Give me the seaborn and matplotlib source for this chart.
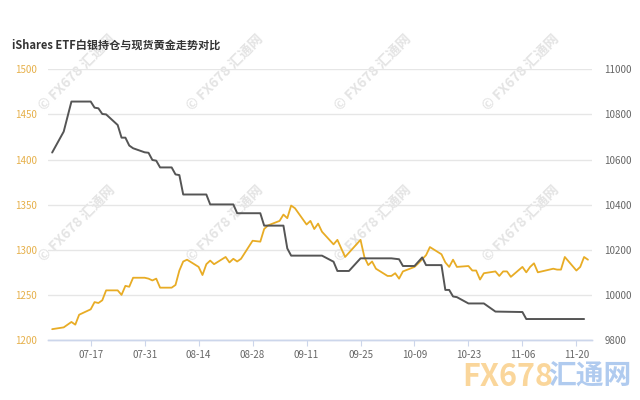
import pandas as pd
import matplotlib
matplotlib.use("Agg")
import matplotlib.pyplot as plt
import matplotlib.dates as mdates
import seaborn as sns

# Spot gold (left axis)
gold_dates = ["2017-07-07", "2017-07-10", "2017-07-12", "2017-07-13", "2017-07-14",
              "2017-07-17", "2017-07-18", "2017-07-19", "2017-07-20", "2017-07-21",
              "2017-07-24", "2017-07-25", "2017-07-26", "2017-07-27", "2017-07-28",
              "2017-07-31", "2017-08-01", "2017-08-02", "2017-08-03", "2017-08-04",
              "2017-08-07", "2017-08-08", "2017-08-09", "2017-08-10", "2017-08-11",
              "2017-08-14", "2017-08-15", "2017-08-16", "2017-08-17", "2017-08-18",
              "2017-08-21", "2017-08-22", "2017-08-23", "2017-08-24", "2017-08-25",
              "2017-08-28", "2017-08-30", "2017-08-31", "2017-09-01", "2017-09-04",
              "2017-09-05", "2017-09-06", "2017-09-07", "2017-09-08", "2017-09-11",
              "2017-09-12", "2017-09-13", "2017-09-14", "2017-09-15", "2017-09-18",
              "2017-09-19", "2017-09-21", "2017-09-25", "2017-09-26", "2017-09-27",
              "2017-09-28", "2017-09-29", "2017-10-02", "2017-10-03", "2017-10-04",
              "2017-10-05", "2017-10-06", "2017-10-09", "2017-10-10", "2017-10-12",
              "2017-10-13", "2017-10-16", "2017-10-17", "2017-10-18", "2017-10-19",
              "2017-10-20", "2017-10-23", "2017-10-24", "2017-10-25", "2017-10-26",
              "2017-10-27", "2017-10-30", "2017-10-31", "2017-11-01", "2017-11-02",
              "2017-11-03", "2017-11-06", "2017-11-07", "2017-11-08", "2017-11-09",
              "2017-11-10", "2017-11-13", "2017-11-14", "2017-11-15", "2017-11-16",
              "2017-11-17", "2017-11-20", "2017-11-21", "2017-11-22", "2017-11-23"]
gold_price = [1212, 1214, 1220, 1217, 1228,
              1234, 1242, 1241, 1244, 1255,
              1255, 1250, 1260, 1259, 1269,
              1269, 1268, 1266, 1268, 1258,
              1258, 1261, 1277, 1287, 1289,
              1281, 1272, 1284, 1288, 1284,
              1292, 1286, 1290, 1287, 1290,
              1310, 1309, 1323, 1327, 1332,
              1339, 1335, 1349, 1346, 1328,
              1332, 1323, 1329, 1320, 1306,
              1311, 1292, 1311, 1292, 1283,
              1287, 1279, 1271, 1271, 1274,
              1268, 1276, 1281, 1285, 1294,
              1303, 1295, 1286, 1281, 1289,
              1281, 1282, 1277, 1277, 1267,
              1274, 1276, 1271, 1276, 1276,
              1270, 1281, 1275, 1281, 1285,
              1275, 1278, 1279, 1278, 1278,
              1292, 1277, 1281, 1292, 1289]

# iShares silver ETF holdings (right axis)
etf_dates = ["2017-07-07", "2017-07-10", "2017-07-12", "2017-07-17", "2017-07-18",
             "2017-07-19", "2017-07-20", "2017-07-21", "2017-07-24", "2017-07-25",
             "2017-07-26", "2017-07-27", "2017-07-28", "2017-07-31", "2017-08-01",
             "2017-08-02", "2017-08-03", "2017-08-04", "2017-08-07", "2017-08-08",
             "2017-08-09", "2017-08-10", "2017-08-16", "2017-08-17", "2017-08-23",
             "2017-08-24", "2017-08-30", "2017-08-31", "2017-09-05", "2017-09-06",
             "2017-09-07", "2017-09-15", "2017-09-18", "2017-09-19", "2017-09-22",
             "2017-09-25", "2017-10-03", "2017-10-05", "2017-10-06", "2017-10-09",
             "2017-10-11", "2017-10-12", "2017-10-16", "2017-10-17", "2017-10-18",
             "2017-10-19", "2017-10-20", "2017-10-23", "2017-10-27", "2017-10-30",
             "2017-11-06", "2017-11-07", "2017-11-22"]
etf_holdings = [10631, 10724, 10857, 10857, 10830,
                10827, 10802, 10800, 10753, 10697,
                10697, 10662, 10650, 10632, 10630,
                10598, 10595, 10565, 10565, 10534,
                10531, 10445, 10445, 10401, 10401,
                10362, 10362, 10307, 10307, 10206,
                10174, 10174, 10147, 10106, 10106,
                10162, 10162, 10158, 10128, 10128,
                10166, 10132, 10132, 10022, 10022,
                9993, 9990, 9962, 9962, 9926,
                9924, 9893, 9893]

gold = pd.DataFrame({"date": pd.to_datetime(gold_dates), "price": gold_price})
etf = pd.DataFrame({"date": pd.to_datetime(etf_dates), "holdings": etf_holdings})

sns.set_theme(style="white")
plt.rcParams["font.family"] = ["Noto Sans CJK SC", "DejaVu Sans"]

GOLD = "#e8ac25"
GREY = "#555555"

fig = plt.figure(figsize=(6.4, 4), dpi=100)
ax = fig.add_axes([48.3 / 640, 60 / 400, (591.8 - 48.3) / 640, (340 - 69.3) / 400])
ax2 = ax.twinx()

# faint watermark grid
for cy in [72, 223]:
    for cx in [77, 225, 373, 521]:
        ax.text(cx / 640, 1 - cy / 400, "© FX678 汇通网", transform=fig.transFigure,
                rotation=45, ha="center", va="center", fontsize=10, fontweight="bold",
                color="#e4e4e4", clip_on=False, zorder=0.5)

sns.lineplot(data=gold, x="date", y="price", ax=ax, color=GOLD, linewidth=1.3, zorder=3)
sns.lineplot(data=etf, x="date", y="holdings", ax=ax2, color=GREY, linewidth=1.4, zorder=3)

ax.set_ylim(1200, 1500)
ax.set_yticks([1200, 1250, 1300, 1350, 1400, 1450, 1500])
ax2.set_ylim(9800, 11000)
ax2.set_yticks([9800, 10000, 10200, 10400, 10600, 10800, 11000])
ax.set_xlim(pd.Timestamp("2017-07-06"), pd.Timestamp("2017-11-24"))

ticks = pd.date_range("2017-07-17", "2017-11-20", freq="14D")
ax.set_xticks(ticks)
ax.xaxis.set_major_formatter(mdates.DateFormatter("%m-%d"))

ax.grid(axis="y", color="#e6e6e6", linewidth=1)
ax.set_axisbelow(True)
ax.set_xlabel("")
ax.set_ylabel("")
ax2.set_xlabel("")
ax2.set_ylabel("")

for a in (ax, ax2):
    for s in ["top", "left", "right"]:
        a.spines[s].set_visible(False)
    a.spines["bottom"].set_color("#ccd6eb")
    a.spines["bottom"].set_linewidth(1)

ax.tick_params(axis="y", length=0, pad=8, labelsize=7, labelcolor="#e6b04a")
ax2.tick_params(axis="y", length=0, pad=9, labelsize=7, labelcolor="#666666")
ax.tick_params(axis="x", length=4, width=0.8, color="#ccd6eb", direction="out",
               labelsize=7, labelcolor="#666666", pad=3, bottom=True)

fig.text(12 / 640, 1 - 45 / 400, "iShares ETF白银持仓与现货黄金走势对比",
         fontsize=8, fontweight="bold", color="#333333", va="center", ha="left")

# site logo bottom-right
fig.text(462 / 640, 1 - 377 / 400, "FX678", fontsize=22, fontweight="bold", style="italic",
         color="#f5a623", alpha=0.45, va="center", ha="left")
fig.text(548 / 640, 1 - 377 / 400, "汇通网", fontsize=20, fontweight="bold",
         color="#3b7dd8", alpha=0.4, va="center", ha="left")

fig.savefig("out.png", dpi=100)
